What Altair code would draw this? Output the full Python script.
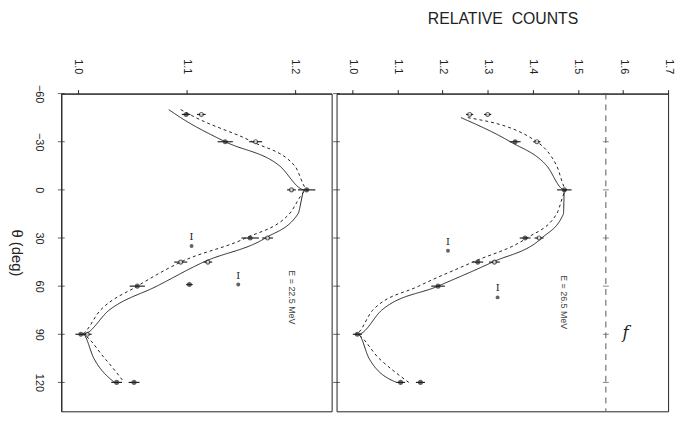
import altair as alt
import pandas as pd

# ---------------- data ----------------
theta_ticks = [-60, -30, 0, 30, 60, 90, 120]
left_ticks = [1.0, 1.1, 1.2]
right_ticks = [1.0, 1.1, 1.2, 1.3, 1.4, 1.5, 1.6, 1.7]

curve_theta = [-50, -45, -30, -15, 0, 15, 30, 45, 60, 75, 90, 105, 120]
left_curve_a = [1.084, 1.095, 1.136, 1.186, 1.209, 1.203, 1.173, 1.116, 1.073, 1.029, 1.005, 1.015, 1.034]
left_curve_b = [1.095, 1.109, 1.161, 1.200, 1.212, 1.195, 1.155, 1.095, 1.055, 1.021, 1.003, 1.025, 1.043]

rcurve_theta = [-45, -30, -15, 0, 15, 30, 45, 60, 75, 90, 105, 120]
right_curve_a = [1.241, 1.350, 1.431, 1.470, 1.468, 1.420, 1.311, 1.190, 1.065, 1.013, 1.037, 1.098]
right_curve_b = [1.256, 1.409, 1.453, 1.475, 1.453, 1.387, 1.267, 1.147, 1.045, 1.007, 1.059, 1.125]

left_pt_theta = [-47, -47, -30, -30, 0, 0, 30, 30, 45, 45, 60, 59, 90, 90, 120, 120]
left_pt_val = [1.100, 1.114, 1.136, 1.164, 1.197, 1.211, 1.159, 1.175, 1.095, 1.120, 1.055, 1.103, 1.003, 1.009, 1.036, 1.052]
left_pt_err = [0.004, 0.004, 0.007, 0.006, 0.004, 0.008, 0.008, 0.005, 0.006, 0.004, 0.007, 0.003, 0.005, 0.004, 0.005, 0.005]
left_pt_kind = ["f", "o", "f", "o", "o", "f", "f", "o", "o", "o", "f", "f", "f", "o", "f", "f"]

right_pt_theta = [-47, -47, -30, -30, 0, 30, 30, 45, 45, 60, 90, 120, 120]
right_pt_val = [1.260, 1.300, 1.361, 1.409, 1.470, 1.383, 1.414, 1.278, 1.315, 1.190, 1.011, 1.107, 1.151]
right_pt_err = [0.008, 0.008, 0.012, 0.008, 0.016, 0.012, 0.010, 0.012, 0.012, 0.015, 0.010, 0.010, 0.010]
right_pt_kind = ["o", "o", "f", "o", "f", "f", "o", "f", "o", "f", "f", "f", "f"]

left_i_theta = [35, 59]
left_i_val = [1.105, 1.148]
right_i_theta = [38, 67]
right_i_val = [1.212, 1.322]

left_label = "E = 22.5 MeV"
right_label = "E = 26.5 MeV"

FONT = "Liberation Sans"
INK = "#222222"
TH_DOMAIN = [-60, 138]
H = 322


def curves_df(th, a, b):
    rows = [{"theta": t, "v": v, "s": "a"} for t, v in zip(th, a)]
    rows += [{"theta": t, "v": v, "s": "b"} for t, v in zip(th, b)]
    return pd.DataFrame(rows)


def pts_df(th, v, e, k):
    return pd.DataFrame({"theta": th, "v": v, "lo": [x - d for x, d in zip(v, e)],
                         "hi": [x + d for x, d in zip(v, e)], "kind": k})


def panel(xdomain, xticks, cdf, pdf, idf, label, label_pos, width, show_y, extra=None):
    xs = alt.Scale(domain=xdomain, nice=False, zero=False)
    ys = alt.Scale(domain=TH_DOMAIN, reverse=True, nice=False, zero=False)
    xaxis = alt.Axis(orient="top", values=xticks, format=".1f", labelAngle=90,
                     labelAlign="right", labelBaseline="middle", labelPadding=16,
                     tickSize=4, grid=False, title=None, labelFont=FONT,
                     labelFontSize=11, labelColor=INK, domainColor=INK, tickColor=INK)
    if show_y:
        yaxis = alt.Axis(values=theta_ticks, labelAngle=90, labelAlign="center",
                         labelBaseline="top", labelPadding=17, ticks=False, grid=False,
                         title="θ (deg)", titleAngle=90, titleBaseline="top",
                         titlePadding=10, titleFont=FONT, titleFontSize=15,
                         titleFontWeight="normal", titleColor=INK, labelFont=FONT,
                         labelFontSize=11, labelColor=INK, domainColor=INK)
    else:
        yaxis = None

    base_x = alt.X("v:Q", scale=xs, axis=xaxis)
    base_y = alt.Y("theta:Q", scale=ys, axis=yaxis)

    lines = alt.Chart(cdf).mark_line(strokeWidth=1, interpolate="monotone", color=INK).encode(
        x=base_x, y=base_y, detail="s:N",
        order=alt.Order("theta:Q"),
        strokeDash=alt.StrokeDash("s:N", scale=alt.Scale(domain=["a", "b"], range=[[1, 0], [3, 3]]), legend=None),
    )
    err = alt.Chart(pdf).mark_rule(strokeWidth=1.2, color=INK).encode(
        x=alt.X("lo:Q", scale=xs), x2="hi:Q", y=alt.Y("theta:Q", scale=ys))
    pts = alt.Chart(pdf).mark_point(size=16, strokeWidth=1.2, color=INK).encode(
        x=alt.X("v:Q", scale=xs), y=alt.Y("theta:Q", scale=ys),
        fill=alt.Fill("kind:N", scale=alt.Scale(domain=["f", "o"], range=[INK, "white"]), legend=None))
    ipts = alt.Chart(idf).mark_point(size=16, filled=True, color=INK).encode(
        x=alt.X("v:Q", scale=xs), y=alt.Y("theta:Q", scale=ys))
    ibar = alt.Chart(idf).mark_text(text="I", font="DejaVu Serif", fontSize=10, dy=-9, color=INK).encode(
        x=alt.X("v:Q", scale=xs), y=alt.Y("theta:Q", scale=ys))
    txt = alt.Chart(pd.DataFrame({"v": [label_pos[0]], "theta": [label_pos[1]], "t": [label]})).mark_text(
        angle=90, font=FONT, fontSize=9, color="#444444", align="center", baseline="middle").encode(
        x=alt.X("v:Q", scale=xs), y=alt.Y("theta:Q", scale=ys), text="t:N")
    edge = alt.Chart(pd.DataFrame({"theta": theta_ticks, "v": [xdomain[0]] * len(theta_ticks)})).mark_tick(
        orient="horizontal", size=7, thickness=1, color=INK).encode(
        x=alt.X("v:Q", scale=xs), y=alt.Y("theta:Q", scale=ys))
    layers = [lines, err, pts, ipts, ibar, txt, edge]
    if extra is not None:
        layers += extra(xs, ys)
    return alt.layer(*layers).properties(width=width, height=H)


def right_extra(xs, ys):
    sep = 1.562
    rule = alt.Chart(pd.DataFrame({"v": [sep], "a": [TH_DOMAIN[0]], "b": [TH_DOMAIN[1]]})).mark_rule(
        strokeDash=[6, 5], strokeWidth=1, color="#555555").encode(
        x=alt.X("v:Q", scale=xs), y=alt.Y("a:Q", scale=ys), y2="b:Q")
    tks = alt.Chart(pd.DataFrame({"theta": theta_ticks, "v": [sep] * len(theta_ticks)})).mark_tick(
        orient="horizontal", size=6, thickness=1, color="#555555").encode(
        x=alt.X("v:Q", scale=xs), y=alt.Y("theta:Q", scale=ys))
    ftxt = alt.Chart(pd.DataFrame({"v": [1.606], "theta": [89], "t": ["f"]})).mark_text(
        font="DejaVu Serif", fontSize=17, fontStyle="italic", color=INK).encode(
        x=alt.X("v:Q", scale=xs), y=alt.Y("theta:Q", scale=ys), text="t:N")
    return [rule, tks, ftxt]


left = panel([0.985, 1.234], left_ticks,
             curves_df(curve_theta, left_curve_a, left_curve_b),
             pts_df(left_pt_theta, left_pt_val, left_pt_err, left_pt_kind),
             pd.DataFrame({"theta": left_i_theta, "v": left_i_val}),
             left_label, (1.197, 67), 274, True)
right = panel([0.965, 1.70], right_ticks,
              curves_df(rcurve_theta, right_curve_a, right_curve_b),
              pts_df(right_pt_theta, right_pt_val, right_pt_err, right_pt_kind),
              pd.DataFrame({"theta": right_i_theta, "v": right_i_val}),
              right_label, (1.470, 70), 336, False, right_extra)

chart = alt.hconcat(left, right, spacing=0).resolve_scale(x="independent", y="independent").properties(
    title=alt.TitleParams("RELATIVE\u00a0\u00a0COUNTS", anchor="start", dx=425, fontSize=16,
                          font=FONT, fontWeight="normal", color=INK, offset=32),
    padding=0, background="white",
).configure_view(stroke=INK, strokeWidth=1)

chart.save("out.html", embed_options={"renderer": "svg", "actions": False})
